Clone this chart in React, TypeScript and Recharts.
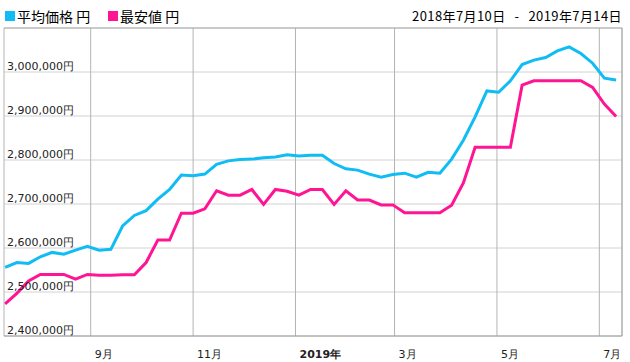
/* ── Price History Chart — weekly average vs lowest price ───────────── */

import { LineChart, Line, XAxis, YAxis, CartesianGrid, ReferenceLine } from 'recharts';

const START = '2018-07-10';

/* weekly sample dates */
const dates = [
  '2018-07-12', '2018-07-19', '2018-07-26', '2018-08-02', '2018-08-09', '2018-08-16',
  '2018-08-23', '2018-08-30', '2018-09-06', '2018-09-13', '2018-09-20', '2018-09-27',
  '2018-10-04', '2018-10-11', '2018-10-18', '2018-10-25', '2018-11-01', '2018-11-08',
  '2018-11-15', '2018-11-22', '2018-11-29', '2018-12-06', '2018-12-13', '2018-12-20',
  '2018-12-27', '2019-01-03', '2019-01-10', '2019-01-17', '2019-01-24', '2019-01-31',
  '2019-02-07', '2019-02-14', '2019-02-21', '2019-02-28', '2019-03-07', '2019-03-14',
  '2019-03-21', '2019-03-28', '2019-04-04', '2019-04-11', '2019-04-18', '2019-04-25',
  '2019-05-02', '2019-05-09', '2019-05-16', '2019-05-23', '2019-05-30', '2019-06-06',
  '2019-06-13', '2019-06-20', '2019-06-27', '2019-07-04', '2019-07-11',
];

/* 平均価格 (円) */
const avgPrice = [
  2556000, 2567000, 2565000, 2580000, 2590000, 2586000, 2595000, 2604000, 2595000, 2597000,
  2650000, 2674000, 2685000, 2711000, 2733000, 2766000, 2764000, 2768000, 2790000, 2798000,
  2801000, 2802000, 2805000, 2807000, 2812000, 2809000, 2811000, 2811000, 2792000, 2780000,
  2777000, 2768000, 2761000, 2767000, 2770000, 2761000, 2772000, 2770000, 2802000, 2845000,
  2898000, 2957000, 2954000, 2980000, 3017000, 3027000, 3033000, 3048000, 3057000, 3042000,
  3020000, 2986000, 2982000,
];

/* 最安値 (円) */
const minPrice = [
  2473000, 2497000, 2525000, 2540000, 2540000, 2540000, 2529000, 2540000, 2538000, 2538000,
  2539000, 2539000, 2567000, 2618000, 2618000, 2679000, 2679000, 2689000, 2730000, 2720000,
  2720000, 2733000, 2699000, 2733000, 2729000, 2720000, 2733000, 2733000, 2699000, 2730000,
  2709000, 2709000, 2698000, 2698000, 2680000, 2680000, 2680000, 2680000, 2697000, 2748000,
  2829000, 2829000, 2829000, 2829000, 2970000, 2980000, 2980000, 2980000, 2980000, 2980000,
  2965000, 2927000, 2899000,
];

const tickDates = ['2018-09-01', '2018-11-01', '2019-01-01', '2019-03-01', '2019-05-01', '2019-07-01'];
const tickLabels = ['9月', '11月', '2019年', '3月', '5月', '7月'];
const yTicks = [2400000, 2500000, 2600000, 2700000, 2800000, 2900000, 3000000, 3100000];

const BLUE = '#0fbdf4';
const PINK = '#ff1493';

const dayOf = (s: string) => (Date.parse(s) - Date.parse(START)) / 86400000;

const data = dates.map((d, i) => ({ day: dayOf(d), avg: avgPrice[i], min: minPrice[i] }));
const xTicks = tickDates.map(dayOf);
const X_DOMAIN: [number, number] = [1.35, 369.5];

const AXIS_FONT = '"DejaVu Sans", Verdana, sans-serif';
const CJK_FONT = '"Noto Sans CJK JP", sans-serif';

function XTick({ x, payload }: any) {
  const idx = xTicks.indexOf(payload.value);
  const label = tickLabels[idx] ?? '';
  return (
    <text x={x + 4} y={358} fontSize={11} fontFamily={AXIS_FONT} fill="#222"
      fontWeight={label === '2019年' ? 'bold' : 'normal'} textAnchor="start">
      {label}
    </text>
  );
}

function YTick({ y, payload }: any) {
  if (payload.value >= 3100000) return <g />;
  return (
    <text x={7} y={y - 2} fontSize={11} fontFamily={AXIS_FONT} fill="#222" textAnchor="start">
      {payload.value.toLocaleString('en-US')}円
    </text>
  );
}

export default function App() {
  return (
    <div style={{ position: 'absolute', left: 0, top: 0, width: 630, height: 362, background: '#fff' }}>
      <LineChart width={630} height={362} data={data} margin={{ top: 28, right: 8, bottom: 0, left: 4 }}>
        <CartesianGrid vertical={false} stroke="#d2d2d2" />
        <CartesianGrid horizontal={false} stroke="#b4b4b4" />
        <XAxis
          type="number"
          dataKey="day"
          domain={X_DOMAIN}
          allowDataOverflow
          ticks={xTicks}
          tick={<XTick />}
          tickLine={false}
          axisLine={{ stroke: '#9a9a9a' }}
          height={26}
        />
        <YAxis
          type="number"
          domain={[2400000, 3100000]}
          ticks={yTicks}
          interval={0}
          tick={<YTick />}
          mirror
          width={80}
          tickLine={false}
          axisLine={false}
          allowDataOverflow
        />
        <ReferenceLine y={3100000} stroke="#aaaaaa" />
        <ReferenceLine x={X_DOMAIN[1]} stroke="#aaaaaa" />
        <Line type="linear" dataKey="avg" stroke={BLUE} strokeWidth={3} dot={false} isAnimationActive={false} />
        <Line type="linear" dataKey="min" stroke={PINK} strokeWidth={3} dot={false} isAnimationActive={false} />
      </LineChart>

      {/* legend + period caption */}
      <svg width={630} height={28} style={{ position: 'absolute', left: 0, top: 0, pointerEvents: 'none' }}>
        <rect x={5} y={11} width={10} height={10} fill={BLUE} />
        <text x={17} y={22} fontSize={14} fontFamily={CJK_FONT} fill="#000">平均価格 円</text>
        <rect x={108} y={11} width={10} height={10} fill={PINK} />
        <text x={120} y={22} fontSize={14} fontFamily={CJK_FONT} fill="#000">最安値 円</text>
        <text x={622} y={21} fontSize={13} fontFamily={CJK_FONT} fill="#000" textAnchor="end" letterSpacing={0.4}>
          2018年7月10日<tspan dx={9}>-</tspan><tspan dx={9}>2019年7月14日</tspan>
        </text>
      </svg>
    </div>
  );
}
